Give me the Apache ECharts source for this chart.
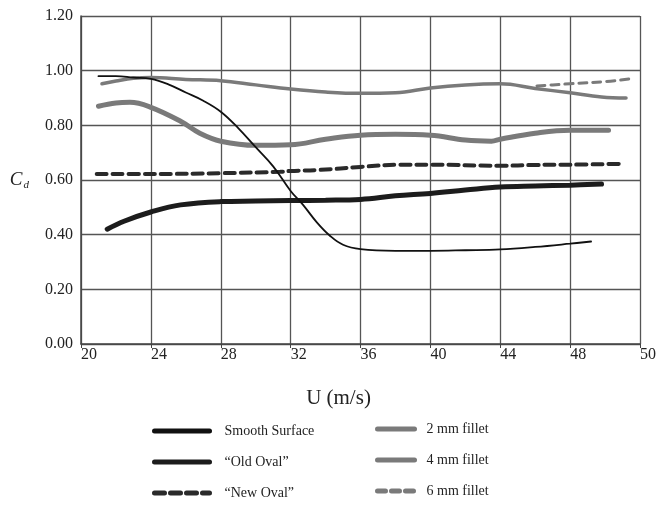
<!DOCTYPE html>
<html>
<head>
<meta charset="utf-8">
<script src="https://cdn.jsdelivr.net/npm/echarts@6/dist/echarts.min.js"></script>
<style>
  html, body { margin: 0; padding: 0; background: #fff; }
  #chart { width: 670px; height: 506px; }
</style>
</head>
<body>
<div id="chart"></div>
<script>
// x axis ticks are evenly spaced on the page, even though 48 -> 50 is a half step
const xTickValues = [20, 24, 28, 32, 36, 40, 44, 48, 50];
const xTickLabels = ['20', '24', '28', '32', '36', '40', '44', '48', '50'];

// [U (m/s), Cd]
const smoothSurface = [[21, 0.98], [22, 0.98], [23, 0.975], [24, 0.97], [25, 0.95], [26, 0.92], [27, 0.89], [28, 0.85],
    [29, 0.79], [30, 0.72], [31, 0.65], [32, 0.56], [32.7, 0.51], [33.5, 0.445], [34.25, 0.396], [35, 0.363],
    [36, 0.347], [38, 0.341], [40, 0.341], [42, 0.343], [44, 0.346], [46, 0.355], [48, 0.367], [48.6, 0.375]];
const oldOval = [[21.5, 0.42], [22.5, 0.45], [24, 0.483], [25.7, 0.509], [28, 0.521], [30, 0.523], [32, 0.525],
    [34, 0.526], [36, 0.529], [38, 0.542], [40, 0.551], [42, 0.563], [44, 0.574], [46, 0.578], [48, 0.581], [48.9, 0.585]];
const newOval = [[20.9, 0.622], [24, 0.622], [28, 0.625], [31.4, 0.63], [32, 0.633], [33.7, 0.637], [36, 0.648],
    [38.3, 0.656], [40, 0.656], [44, 0.652], [46, 0.655], [48, 0.656], [49.4, 0.659]];
const fillet2 = [[21.2, 0.952], [22, 0.962], [23, 0.972], [24, 0.975], [26, 0.968], [28, 0.963], [30, 0.948],
    [32, 0.933], [34, 0.922], [36, 0.917], [38, 0.919], [40, 0.937], [42, 0.948], [44, 0.952], [46, 0.935],
    [48, 0.919], [48.9, 0.904], [49.6, 0.9]];
const fillet4 = [[21, 0.87], [22, 0.882], [22.8, 0.884], [24, 0.866], [25.7, 0.815], [26.8, 0.771], [28, 0.742],
    [30, 0.727], [32, 0.729], [34, 0.749], [36, 0.764], [38, 0.767], [40, 0.764], [42, 0.746], [43.5, 0.742],
    [44, 0.749], [46, 0.771], [48, 0.782], [49.1, 0.782]];
const fillet6 = [[46.1, 0.944], [47, 0.948], [48, 0.952], [49, 0.96], [49.7, 0.97]];

// map a speed onto the evenly spaced tick positions
const toPos = (u) => {
    for (let i = 0; i < xTickValues.length - 1; i++) {
        const a = xTickValues[i], b = xTickValues[i + 1];
        if (u <= b || i === xTickValues.length - 2) return i + (u - a) / (b - a);
    }
};
const prep = (arr) => arr.map(d => [toPos(d[0]), d[1]]);

const serif = '"Liberation Serif", "DejaVu Serif", serif';

const lineSeries = (name, data, color, width, type, z) => ({
    name,
    type: 'line',
    data: prep(data),
    smooth: 0.4,
    symbol: 'none',
    z: z || 2,
    lineStyle: { color, width, type: type || 'solid', cap: 'round' },
    itemStyle: { color }
});

const legendBase = {
    orient: 'vertical',
    itemHeight: 14,
    itemGap: 17,
    padding: 0,
    height: 90,
    lineStyle: { width: 5 },
    itemStyle: { opacity: 0 }
};

const myChart = echarts.init(document.getElementById('chart'));

myChart.setOption({
    backgroundColor: '#fff',
    animation: false,
    grid: { left: 81, right: 30, top: 16, bottom: 162 },
    xAxis: {
        type: 'value',
        min: 0,
        max: 8,
        interval: 1,
        name: 'U (m/s)',
        nameLocation: 'middle',
        nameGap: 44,
        nameTextStyle: { fontFamily: serif, fontSize: 21, color: '#222', padding: [0, 44, 0, 0] },
        axisLine: { lineStyle: { color: '#444', width: 1.5 } },
        axisTick: { show: true, length: 4, lineStyle: { color: '#444' } },
        axisLabel: {
            fontFamily: serif, fontSize: 16, color: '#222', margin: 3, align: 'left',
            formatter: (v) => xTickLabels[Math.round(v)]
        },
        splitLine: { show: true, lineStyle: { color: '#555', width: 1.3 } }
    },
    yAxis: {
        type: 'value',
        min: 0,
        max: 1.2,
        interval: 0.2,
        name: '{c|C}{d|d}',
        nameLocation: 'middle',
        nameRotate: 0,
        nameGap: 52,
        nameTextStyle: {
            rich: {
                c: { fontFamily: serif, fontStyle: 'italic', fontSize: 19, color: '#222' },
                d: { fontFamily: serif, fontStyle: 'italic', fontSize: 11, color: '#222', padding: [10, 0, 0, 1] }
            }
        },
        axisLine: { show: true, lineStyle: { color: '#444', width: 1.5 } },
        axisTick: { show: false },
        axisLabel: {
            fontFamily: serif, fontSize: 16, color: '#222', margin: 8,
            formatter: (v) => v.toFixed(2)
        },
        splitLine: { show: true, lineStyle: { color: '#555', width: 1.3 } }
    },
    legend: [Object.assign({}, legendBase, {
        data: ['Smooth Surface', '\u201COld Oval\u201D', '\u201CNew Oval\u201D'],
        left: 152,
        top: 424,
        itemWidth: 55,
        textStyle: { fontFamily: serif, fontSize: 14, lineHeight: 14, color: '#222', padding: [0, 0, 0, 10] }
    }), Object.assign({}, legendBase, {
        data: ['2 mm fillet', '4 mm fillet', '6 mm fillet'],
        left: 375,
        top: 422,
        itemWidth: 37,
        textStyle: { fontFamily: serif, fontSize: 14, lineHeight: 14, color: '#222', padding: [0, 0, 0, 7] }
    })],
    series: [
        lineSeries('2 mm fillet', fillet2, '#7a7a7a', 3.5),
        lineSeries('4 mm fillet', fillet4, '#7a7a7a', 5),
        lineSeries('6 mm fillet', fillet6, '#7a7a7a', 3, [8, 6]),
        lineSeries('\u201CNew Oval\u201D', newOval, '#2a2a2a', 4, [10, 6]),
        lineSeries('\u201COld Oval\u201D', oldOval, '#1c1c1c', 5),
        lineSeries('Smooth Surface', smoothSurface, '#111', 1.8, 'solid', 5)
    ]
});
</script>
</body>
</html>
